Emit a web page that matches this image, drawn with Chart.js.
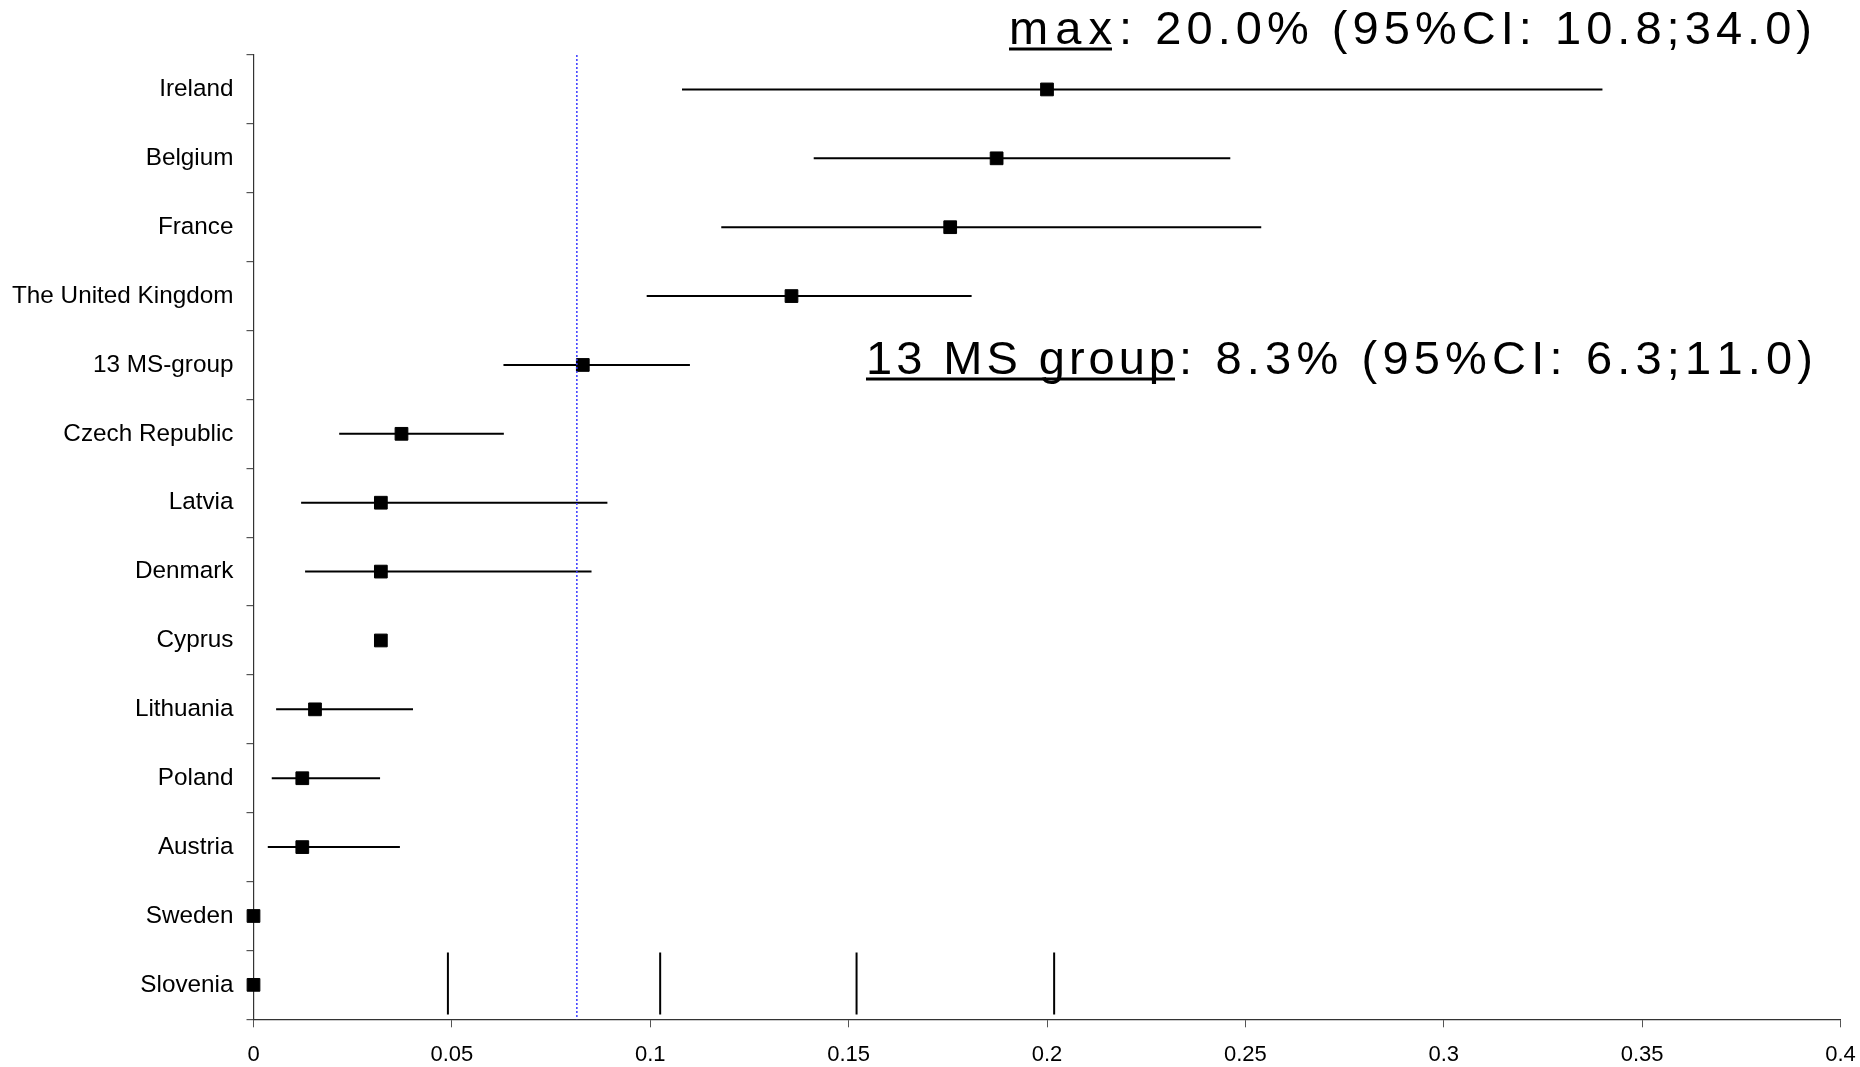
<!DOCTYPE html>
<html>
<head>
<meta charset="utf-8">
<script src="https://cdn.jsdelivr.net/npm/chart.js@4.4.1/dist/chart.umd.min.js"></script>
<style>
  html, body { margin: 0; padding: 0; background: #ffffff; }
  #wrap { width: 1860px; height: 1067px; position: relative; }
</style>
</head>
<body>
<div id="wrap"><canvas id="forest"></canvas></div>
<script>
// Prevalence per country with 95% confidence interval (proportions)
const categories = [
  'Ireland', 'Belgium', 'France', 'The United Kingdom', '13 MS-group',
  'Czech Republic', 'Latvia', 'Denmark', 'Cyprus', 'Lithuania',
  'Poland', 'Austria', 'Sweden', 'Slovenia'
];
const estimate = [0.200, 0.1873, 0.1756, 0.1356, 0.083, 0.0373, 0.0321, 0.0321, 0.0321, 0.0155, 0.0123, 0.0123, 0, 0];
const ciLow    = [0.108, 0.1412, 0.1179, 0.0991, 0.063, 0.0216, 0.0120, 0.0130, null,   0.0057, 0.0046, 0.0036, null, null];
const ciHigh   = [0.340, 0.2462, 0.2540, 0.1810, 0.110, 0.0631, 0.0892, 0.0852, null,   0.0402, 0.0319, 0.0369, null, null];

// Pooled reference line and the short vertical marks along the last row
const pooledLine = 0.0815;
const rowMarks = [0.049, 0.1025, 0.152, 0.2018];
const rowMarkSpan = [12.53, 13.43];

// Horizontal axis ticks
const xTicks = [0, 0.05, 0.1, 0.15, 0.2, 0.25, 0.3, 0.35, 0.4];
const xTickLabels = ['0', '0.05', '0.1', '0.15', '0.2', '0.25', '0.3', '0.35', '0.4'];

const FONT = '"Liberation Sans", Arial, Helvetica, sans-serif';

// confidence interval segments, broken between rows
const ciPoints = [];
categories.forEach((_, i) => {
  if (ciLow[i] == null) return;
  ciPoints.push({ x: ciLow[i], y: i }, { x: ciHigh[i], y: i }, { x: null, y: i });
});
const estPoints = estimate.map((v, i) => ({ x: v, y: i }));
const pooledPoints = [{ x: pooledLine, y: -0.5 }, { x: pooledLine, y: categories.length - 0.5 }];
const markPoints = [];
rowMarks.forEach(v => {
  markPoints.push({ x: v, y: rowMarkSpan[0] }, { x: v, y: rowMarkSpan[1] }, { x: null, y: 0 });
});

const pct = v => (v * 100).toFixed(1);
const iMax = 0;
const iGroup = categories.indexOf('13 MS-group');
const notes = [
  { head: 'max', tail: ': ' + pct(estimate[iMax]) + '% (95%CI: ' + pct(ciLow[iMax]) + ';' + pct(ciHigh[iMax]) + ')',
    left: 1009, headRight: 1112, right: 1812, baseline: 43.5 },
  { head: '13 MS group', tail: ': ' + pct(estimate[iGroup]) + '% (95%CI: ' + pct(ciLow[iGroup]) + ';' + pct(ciHigh[iGroup]) + ')',
    left: 866, headRight: 1175, right: 1813, baseline: 373.5 }
];

// spreads a run of characters between two x positions, returns end of last glyph
function spread(ctx, text, x0, x1, y) {
  const chars = Array.from(text);
  const widths = chars.map(c => ctx.measureText(c).width);
  const base = widths.reduce((a, b) => a + b, 0);
  const gap = chars.length > 1 ? (x1 - x0 - base) / (chars.length - 1) : 0;
  let x = x0;
  chars.forEach((c, k) => {
    ctx.fillText(c, x, y);
    x += widths[k] + (k < chars.length - 1 ? gap : 0);
  });
  return { end: x, gap };
}

// Draws the two summary captions with underlined heads
const captionPlugin = {
  id: 'captions',
  afterDraw(chart) {
    const ctx = chart.ctx;
    ctx.save();
    ctx.font = '47px ' + FONT;
    ctx.fillStyle = '#000000';
    ctx.textBaseline = 'alphabetic';
    ctx.textAlign = 'left';
    notes.forEach(n => {
      const h = spread(ctx, n.head, n.left, n.headRight, n.baseline);
      const tailStart = h.end + Math.max(h.gap, 2);
      spread(ctx, n.tail, tailStart, n.right, n.baseline);
      ctx.fillRect(n.left, n.baseline + 4, h.end - n.left, 3);
    });
    ctx.restore();
  }
};

new Chart(document.getElementById('forest'), {
  type: 'scatter',
  data: {
    datasets: [
      {
        label: 'pooled',
        data: pooledPoints,
        showLine: true,
        borderColor: '#3a3aff',
        borderWidth: 1.5,
        borderDash: [2, 2],
        pointRadius: 0,
        clip: false
      },
      {
        label: '95% CI',
        data: ciPoints,
        showLine: true,
        spanGaps: false,
        borderColor: '#000000',
        borderWidth: 2,
        pointRadius: 0
      },
      {
        label: 'marks',
        data: markPoints,
        showLine: true,
        spanGaps: false,
        borderColor: '#000000',
        borderWidth: 2,
        pointRadius: 0
      },
      {
        label: 'estimate',
        data: estPoints,
        showLine: false,
        pointStyle: 'rect',
        pointRadius: 9,
        pointBorderWidth: 1,
        pointBackgroundColor: '#000000',
        pointBorderColor: '#000000',
        clip: false
      }
    ]
  },
  options: {
    responsive: true,
    maintainAspectRatio: false,
    animation: false,
    events: [],
    layout: { padding: { top: 55, right: 19.5, left: 0, bottom: 0 } },
    plugins: {
      legend: { display: false },
      tooltip: { enabled: false }
    },
    scales: {
      x: {
        type: 'linear',
        position: 'bottom',
        min: 0,
        max: 0.4,
        afterBuildTicks: s => { s.ticks = xTicks.map(v => ({ value: v })); },
        afterFit: s => { s.height = 47.7; s.paddingLeft = 0; s.paddingRight = 0; },
        ticks: {
          autoSkip: false,
          maxRotation: 0,
          padding: 14,
          color: '#000000',
          font: { family: FONT, size: 22 },
          callback: (v, i) => xTickLabels[i]
        },
        grid: {
          drawOnChartArea: false,
          tickLength: 8,
          tickColor: '#555555',
          lineWidth: 1
        },
        border: { color: '#333333', width: 1.2 }
      },
      y: {
        type: 'linear',
        reverse: true,
        min: -0.5,
        max: categories.length - 0.5,
        afterBuildTicks: s => {
          const t = [];
          for (let k = 0; k <= categories.length * 2; k++) t.push({ value: -0.5 + k * 0.5 });
          s.ticks = t;
        },
        afterFit: s => { s.width = 253.5; s.paddingTop = 0; s.paddingBottom = 0; },
        ticks: {
          autoSkip: false,
          padding: 13,
          color: '#000000',
          font: { family: FONT, size: 24.3 },
          callback: v => (Number.isInteger(v) ? categories[v] : '')
        },
        grid: {
          drawOnChartArea: false,
          tickLength: 7,
          tickColor: ctx => (ctx.tick && Number.isInteger(ctx.tick.value) ? 'rgba(0,0,0,0)' : '#555555'),
          lineWidth: 1.2
        },
        border: { color: '#333333', width: 1.2 }
      }
    }
  },
  plugins: [captionPlugin]
});
</script>
</body>
</html>
